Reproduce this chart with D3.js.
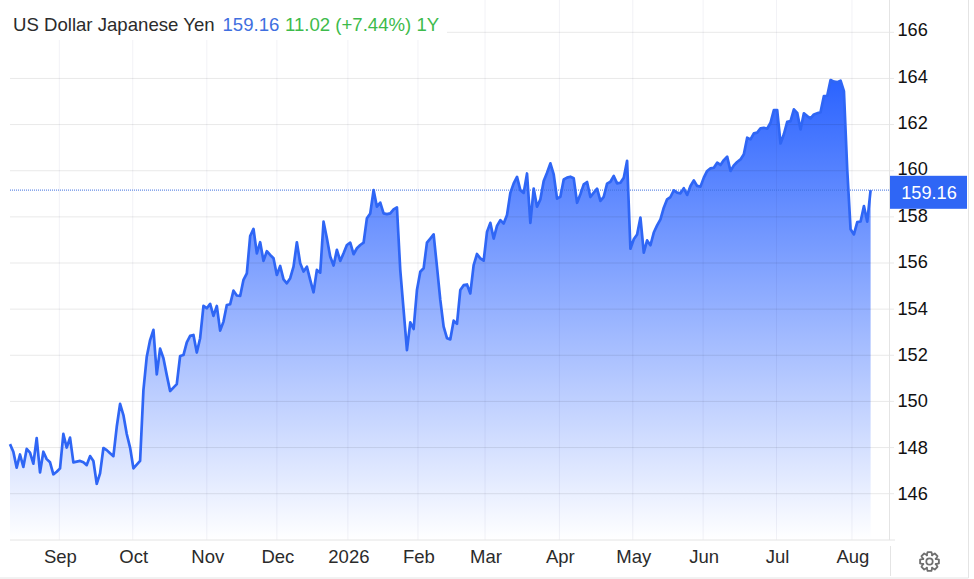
<!DOCTYPE html>
<html>
<head>
<meta charset="utf-8">
<title>US Dollar Japanese Yen</title>
<script src="https://cdn.jsdelivr.net/npm/d3@7"></script>
<style>
  html, body { margin: 0; padding: 0; background: #fff; }
  svg { display: block; font-family: "Liberation Sans", Arial, sans-serif; }
  .axis path, .axis line { display: none; }
</style>
</head>
<body>
<svg id="chart" width="974" height="579"></svg>
<script>
// Daily closes, one per trading session
const closes = [
  148.15,147.82,147.13,147.7,147.16,147.94,147.78,147.3,148.41,146.92,
  147.82,147.5,147.36,146.84,146.95,147.1,148.59,148.0,148.43,147.36,
  147.39,147.42,147.36,147.24,147.63,147.42,146.43,146.88,147.98,147.89,
  147.75,147.63,148.9,149.89,149.41,148.59,148.0,147.1,147.26,147.42,
  150.49,151.94,152.66,153.1,151.17,152.29,151.87,151.14,150.45,150.6,
  150.75,151.97,152.01,152.56,152.84,152.88,152.12,152.74,154.14,154.04,
  154.23,153.71,154.14,153.07,153.46,154.18,154.21,154.8,154.59,154.57,
  155.27,155.55,157.17,157.48,156.42,156.9,156.09,156.51,156.35,156.21,
  155.48,155.87,155.29,155.12,155.34,155.84,156.9,155.99,155.63,155.84,
  155.27,154.73,155.7,155.58,157.79,157.07,156.28,155.89,156.57,156.09,
  156.42,156.78,156.88,156.38,156.64,156.78,156.88,157.94,158.15,159.16,
  158.44,158.62,158.15,158.12,158.15,158.32,158.41,155.69,153.96,152.22,
  153.43,153.14,154.83,155.62,155.77,156.88,157.06,157.24,155.84,154.4,
  153.24,152.74,152.69,153.5,153.36,154.83,155.04,155.07,154.68,155.91,
  156.39,156.2,156.1,157.35,157.74,157.06,157.61,157.86,157.71,158.08,
  159.04,159.45,159.73,159.16,159.04,159.88,157.74,159.23,158.44,158.76,
  159.55,159.91,160.32,159.84,158.79,158.87,159.62,159.7,159.74,159.67,
  158.61,158.98,159.41,159.51,158.86,159.05,159.22,158.69,158.87,159.44,
  159.52,159.77,159.45,159.48,159.7,160.43,156.62,157.03,157.24,157.97,
  156.45,156.98,156.77,157.32,157.63,157.89,158.4,158.76,158.86,159.15,
  159.05,159.02,159.24,158.95,159.34,159.58,159.34,159.31,159.7,159.99,
  160.1,160.13,160.35,160.25,160.46,160.61,159.99,160.23,160.38,160.49,
  160.71,161.43,161.36,161.62,161.65,161.84,161.86,161.82,162.08,162.63,
  162.63,161.18,161.58,162.12,162.15,162.66,162.51,161.79,162.49,162.37,
  162.27,162.44,162.49,162.54,163.24,163.25,163.93,163.86,163.84,163.9,
  163.45,160.03,157.46,157.24,157.77,157.8,158.47,157.79,159.16
];

const monthLabels = ['Sep', 'Oct', 'Nov', 'Dec', '2026', 'Feb', 'Mar', 'Apr', 'May', 'Jun', 'Jul', 'Aug'];
// where each month starts, in sessions from the first close
const monthSessions = [14.8, 36.8, 59, 80, 101.3, 122.3, 142.4, 164.7, 186.7, 207.8, 229.8, 252.4];
const priceTicks = [146, 148, 150, 152, 154, 156, 158, 160, 162, 164, 166];

const lastPrice = 159.16;
const titleParts = [
  { text: 'US Dollar Japanese Yen', color: '#2b2b2b', x: 13 },
  { text: '159.16', color: '#3f6fe0', x: 222.5 },
  { text: '11.02 (+7.44%) 1Y', color: '#3dbb4b', x: 285 }
];

const plot = { left: 10, right: 889.5, bottom: 540 };

const svg = d3.select('#chart');

const x = d3.scaleLinear().domain([0, closes.length - 1]).range([plot.left, 870.6]);
const y = d3.scaleLinear().domain([146, 166]).range([493.7, 32.3]);
// the price labels sit on a slightly wider spacing than the grid
const yLabels = d3.scaleLinear().domain([146, 166]).range([493.7, 30]);

// Area gradient
const grad = svg.append('defs').append('linearGradient')
  .attr('id', 'areaFill')
  .attr('gradientUnits', 'userSpaceOnUse')
  .attr('x1', 0).attr('x2', 0)
  .attr('y1', y(d3.max(closes))).attr('y2', plot.bottom);
grad.append('stop').attr('offset', 0).attr('stop-color', '#2b63ff');
grad.append('stop').attr('offset', 1).attr('stop-color', '#ffffff');

// Area
const area = d3.area()
  .x((d, i) => x(i))
  .y0(plot.bottom)
  .y1(d => y(d));
svg.append('path').datum(closes).attr('d', area).attr('fill', 'url(#areaFill)');

// Grid on top of the fill so it shows through
svg.append('g').selectAll('line').data(priceTicks).join('line')
  .attr('x1', plot.left).attr('x2', 894)
  .attr('y1', d => y(d)).attr('y2', d => y(d))
  .attr('stroke', '#000').attr('stroke-opacity', 0.09);
svg.append('g').selectAll('line').data(monthSessions).join('line')
  .attr('x1', d => x(d)).attr('x2', d => x(d))
  .attr('y1', 0).attr('y2', plot.bottom)
  .attr('stroke', '#1a2a60').attr('stroke-opacity', 0.06);

// Last price dotted line
svg.append('line')
  .attr('x1', plot.left).attr('x2', plot.right)
  .attr('y1', y(lastPrice)).attr('y2', y(lastPrice))
  .attr('stroke', '#3f6fe0').attr('stroke-width', 1).attr('stroke-dasharray', '1 1');

// Price line
const line = d3.line().x((d, i) => x(i)).y(d => y(d)).curve(d3.curveLinear);
svg.append('path').datum(closes).attr('d', line)
  .attr('fill', 'none').attr('stroke', '#2f66f5').attr('stroke-width', 2.7)
  .attr('stroke-linejoin', 'round');

// Frame lines
const frame = [
  [plot.right, 0, plot.right, plot.bottom],
  [plot.left, plot.bottom, 895, plot.bottom],
  [890.5, 546, 890.5, 576],
  [968.5, 0, 968.5, 578],
  [0, 578, 968.5, 578]
];
svg.append('g').selectAll('line').data(frame).join('line')
  .attr('x1', d => d[0]).attr('y1', d => d[1]).attr('x2', d => d[2]).attr('y2', d => d[3])
  .attr('stroke', '#e4e4e4');

// Axes
const yAxis = svg.append('g').attr('class', 'axis')
  .attr('transform', `translate(${plot.right},0)`)
  .call(d3.axisRight(yLabels).tickValues(priceTicks).tickSize(0).tickPadding(8).tickFormat(d3.format('d')));
yAxis.selectAll('text').attr('font-size', 18.2).attr('fill', '#111').attr('font-family', null);

const xAxis = svg.append('g').attr('class', 'axis')
  .attr('transform', `translate(0.5,${plot.bottom + 1})`)
  .call(d3.axisBottom(x).tickValues(monthSessions).tickSize(0).tickPadding(9)
    .tickFormat((d, i) => monthLabels[i]));
xAxis.selectAll('text').attr('font-size', 18.5).attr('fill', '#2b2b2b').attr('font-family', null);

// Title sits on a white plate that hides the grid
svg.append('rect').attr('x', plot.left).attr('y', 0).attr('width', 437).attr('height', 40).attr('fill', '#fff');
svg.append('g').selectAll('text').data(titleParts).join('text')
  .attr('x', d => d.x).attr('y', 30.5)
  .attr('font-size', 18.6).attr('fill', d => d.color)
  .text(d => d.text);

// Last price tag
svg.append('rect').attr('x', 890).attr('y', y(lastPrice) - 14.3).attr('width', 77).attr('height', 33)
  .attr('fill', '#2f66f5');
svg.append('text').attr('x', 929).attr('y', y(lastPrice) + 8.5)
  .attr('text-anchor', 'middle').attr('font-size', 18.2).attr('fill', '#fff')
  .text(d3.format('.2f')(lastPrice));

// Settings gear
const gear = svg.append('g').attr('transform', 'translate(929.5,561.5)')
  .attr('fill', 'none').attr('stroke', '#6f6f6f').attr('stroke-width', 1.8).attr('stroke-linejoin', 'round');
const gearPts = [];
d3.range(8).forEach(i => {
  const a = i * Math.PI / 4;
  [[-0.42, 6.7], [-0.2, 9.6], [0.2, 9.6], [0.42, 6.7]].forEach(([da, r]) => {
    gearPts.push([r * Math.cos(a + da - Math.PI / 2), r * Math.sin(a + da - Math.PI / 2)]);
  });
});
gear.append('path').attr('d', d3.line().curve(d3.curveLinearClosed)(gearPts));
gear.append('circle').attr('r', 3.2);
</script>
</body>
</html>
